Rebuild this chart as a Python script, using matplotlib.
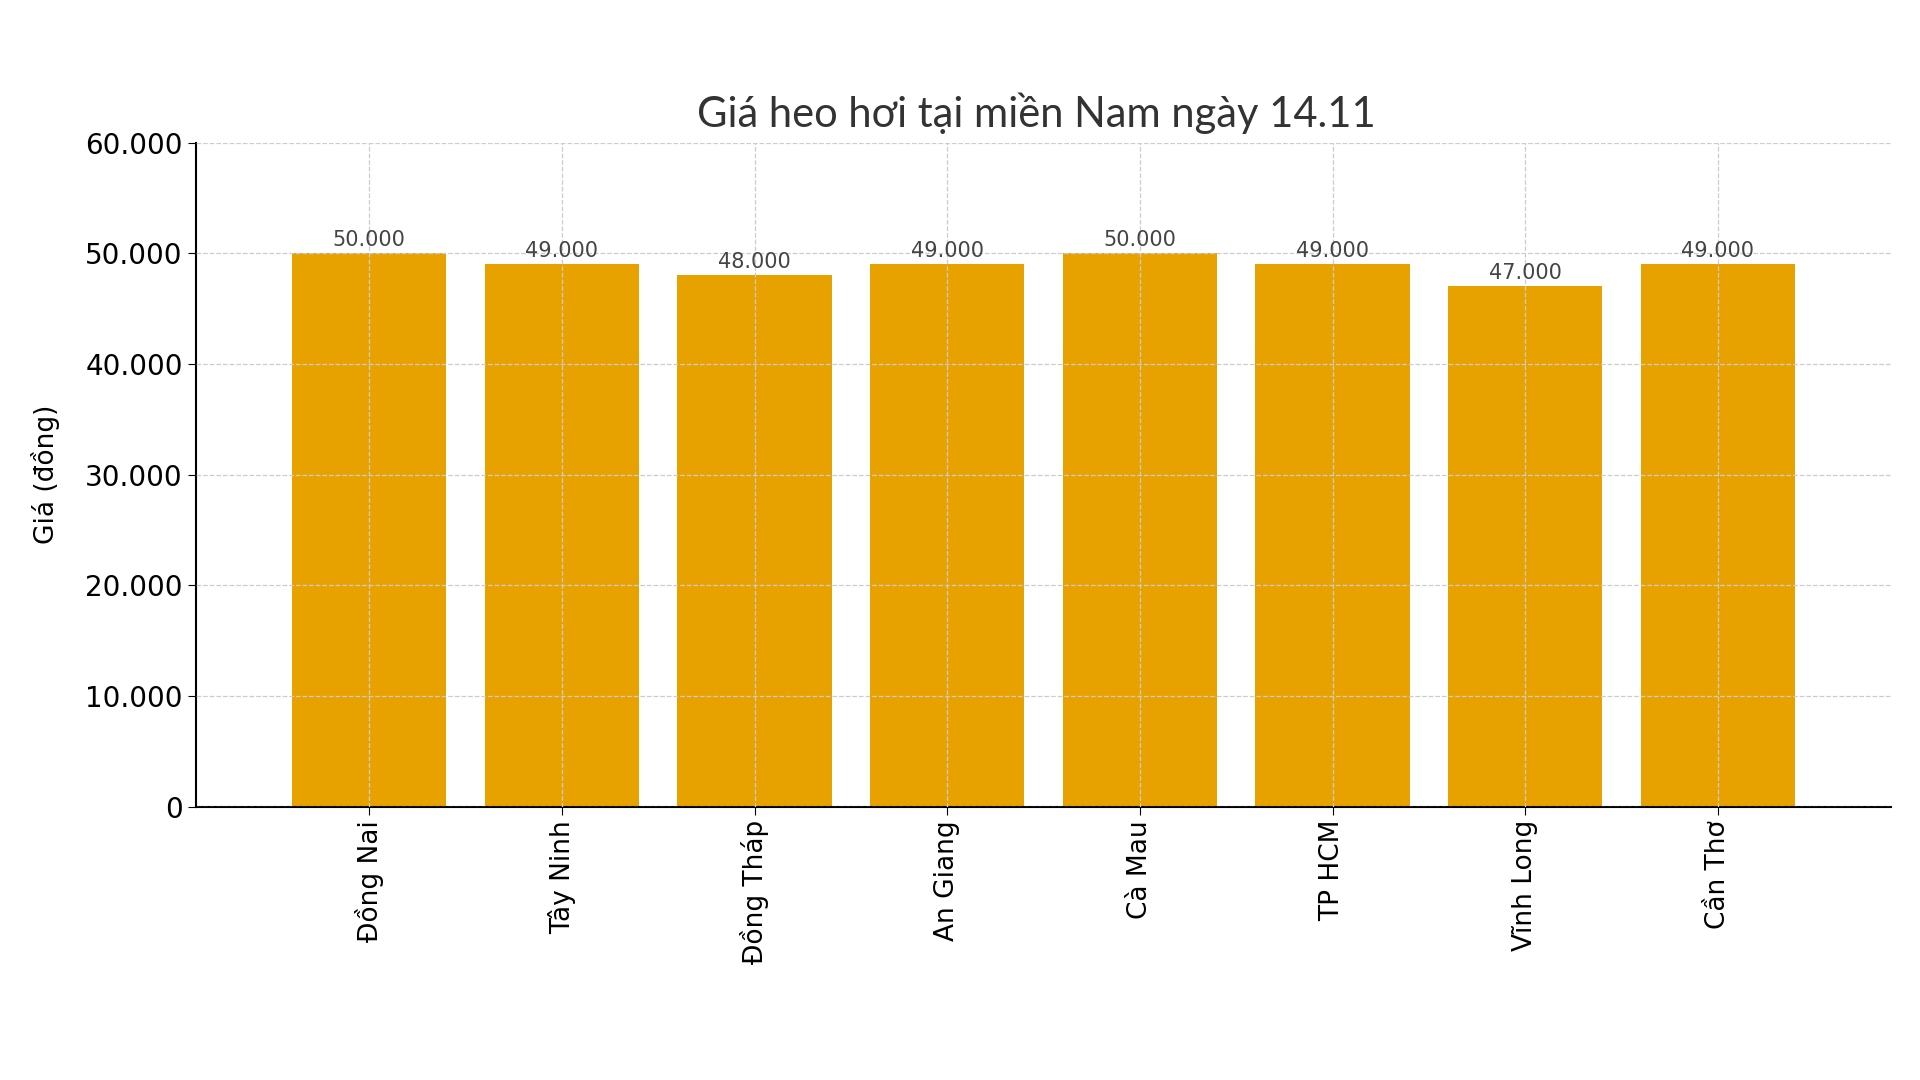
import matplotlib
matplotlib.use("Agg")
import matplotlib.pyplot as plt
from matplotlib.ticker import FuncFormatter

categories = ["Đồng Nai", "Tây Ninh", "Đồng Tháp", "An Giang", "Cà Mau", "TP HCM", "Vĩnh Long", "Cần Thơ"]
values = [50000, 49000, 48000, 49000, 50000, 49000, 47000, 49000]
yticks = [0, 10000, 20000, 30000, 40000, 50000, 60000]

def fmt(v):
    return f"{int(v):,}".replace(",", ".")

fig = plt.figure(figsize=(19.2, 10.8), dpi=100)
ax = fig.add_axes([0.102, 0.253, 0.883, 0.615])
bars = ax.bar(categories, values, color="#E8A200", width=0.8, zorder=2)
ax.set_xlim(-0.9, len(categories) - 0.1)
ax.set_ylim(0, 60000)
ax.set_yticks(yticks)
ax.yaxis.set_major_formatter(FuncFormatter(lambda v, p: fmt(v)))
ax.grid(True, linestyle="--", color="#cccccc", linewidth=0.9, zorder=0)
ax.set_axisbelow(False)
for b, v in zip(bars, values):
    ax.text(b.get_x() + b.get_width() / 2, v + 300, fmt(v), ha="center", va="bottom",
            fontsize=15, color="#444444")
ax.tick_params(axis="x", labelrotation=90, labelsize=19, length=6)
ax.tick_params(axis="y", labelsize=20, length=6)
for s in ["top", "right"]:
    ax.spines[s].set_visible(False)
ax.spines["left"].set_linewidth(1.5)
ax.spines["bottom"].set_linewidth(1.5)
ax.set_ylabel("Giá (đồng)", fontsize=19, labelpad=18)
fig.text(0.54, 0.895, "Giá heo hơi tại miền Nam ngày 14.11", ha="center", va="center",
         fontsize=30, family="Lato", color="#333333")
fig.savefig("out.png", dpi=100, facecolor="white")
